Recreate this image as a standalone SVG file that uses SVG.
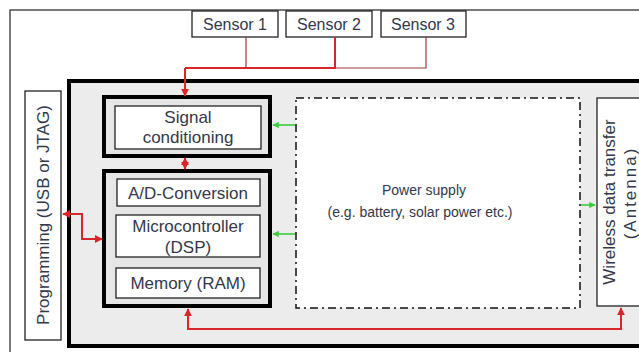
<svg xmlns="http://www.w3.org/2000/svg" width="639" height="352" viewBox="0 0 639 352">
<style>
text{font-family:"Liberation Sans",Arial,sans-serif;fill:#33384a;text-anchor:middle}
.thin{fill:#fff;stroke:#222;stroke-width:1.3}
.thick{fill:#e6e6e6;stroke:#000;stroke-width:4}
.red{fill:none;stroke:#d8262a;stroke-width:2}
.dred{fill:none;stroke:#9a3a3a;stroke-width:1.2}
.grn{fill:none;stroke:#3ccc3c;stroke-width:1.6}
.t17{font-size:17px}
.t16{font-size:16px}
.t14{font-size:14px}
</style>
<defs>
<marker id="ar" viewBox="0 0 10 10" refX="9" refY="5" markerWidth="4" markerHeight="4" orient="auto-start-reverse"><path d="M0,0L10,5L0,10z" fill="#d8262a"/></marker>
<marker id="ag" viewBox="0 0 10 10" refX="9" refY="5" markerWidth="4" markerHeight="4" orient="auto"><path d="M0,0L10,5L0,10z" fill="#3ccc3c"/></marker>
</defs>
<rect x="0" y="0" width="639" height="352" fill="#fff"/>
<rect x="10" y="10" width="640" height="350" fill="none" stroke="#333" stroke-width="1.3"/>
<g id="system"><rect x="69" y="81" width="580" height="265" fill="#ececec" stroke="#000" stroke-width="4"/></g>
<g id="sensor1"><rect class="thin" x="192" y="11" width="86" height="26"/><text class="t16" x="235" y="30">Sensor 1</text></g>
<g id="sensor2"><rect class="thin" x="286" y="11" width="86" height="26"/><text class="t16" x="329" y="30">Sensor 2</text></g>
<g id="sensor3"><rect class="thin" x="381" y="11" width="85" height="26"/><text class="t16" x="423" y="30">Sensor 3</text></g>
<g id="programming"><rect class="thin" x="25" y="91" width="36" height="249"/><text class="t17" transform="translate(49,215) rotate(-90)">Programming (USB or JTAG)</text></g>
<g id="signal"><rect class="thick" x="104" y="97" width="166" height="59"/><rect class="thin" x="115" y="106" width="146" height="43"/><text class="t17" x="188" y="123">Signal</text><text class="t17" x="188" y="143">conditioning</text></g>
<g id="processing"><rect class="thick" x="104" y="171" width="166" height="135"/>
<rect class="thin" x="117" y="179" width="143" height="27"/><text class="t17" x="188" y="199">A/D-Conversion</text>
<rect class="thin" x="116" y="215" width="144" height="42"/><text class="t17" x="188" y="232">Microcontroller</text><text class="t17" x="188" y="253">(DSP)</text>
<rect class="thin" x="116" y="268" width="144" height="30"/><text class="t17" x="188" y="289">Memory (RAM)</text></g>
<g id="power"><rect x="296" y="98" width="284" height="210" fill="#fff" stroke="#111" stroke-width="1.5" stroke-dasharray="8,4,2,4"/><text class="t14" x="424" y="195">Power supply</text><text class="t14" x="420" y="217">(e.g. battery, solar power etc.)</text></g>
<g id="wireless"><rect class="thin" x="597" y="98" width="60" height="208"/><text class="t17" transform="translate(615,202) rotate(-90)">Wireless data transfer</text><text class="t17" letter-spacing="2" transform="translate(636,193) rotate(-90)">(Antenna)</text></g>
<g id="connectors">
<path class="dred" d="M246,37V68"/>
<path class="dred" d="M426,37V68H335"/>
<path class="red" d="M335,37V68H185"/>
<path class="red" d="M185,68V96" marker-end="url(#ar)"/>
<path class="red" d="M185,158V169" stroke-width="1.6" marker-start="url(#ar)" marker-end="url(#ar)"/>
<path class="red" d="M63,214H82V239H102" marker-start="url(#ar)" marker-end="url(#ar)"/>
<path class="red" d="M188,309V329H621V308" marker-start="url(#ar)" marker-end="url(#ar)"/>
<path class="grn" d="M295,125H273" marker-end="url(#ag)"/>
<path class="grn" d="M295,234H273" marker-end="url(#ag)"/>
<path class="grn" d="M581,205H595" marker-end="url(#ag)"/>
</g>
</svg>
